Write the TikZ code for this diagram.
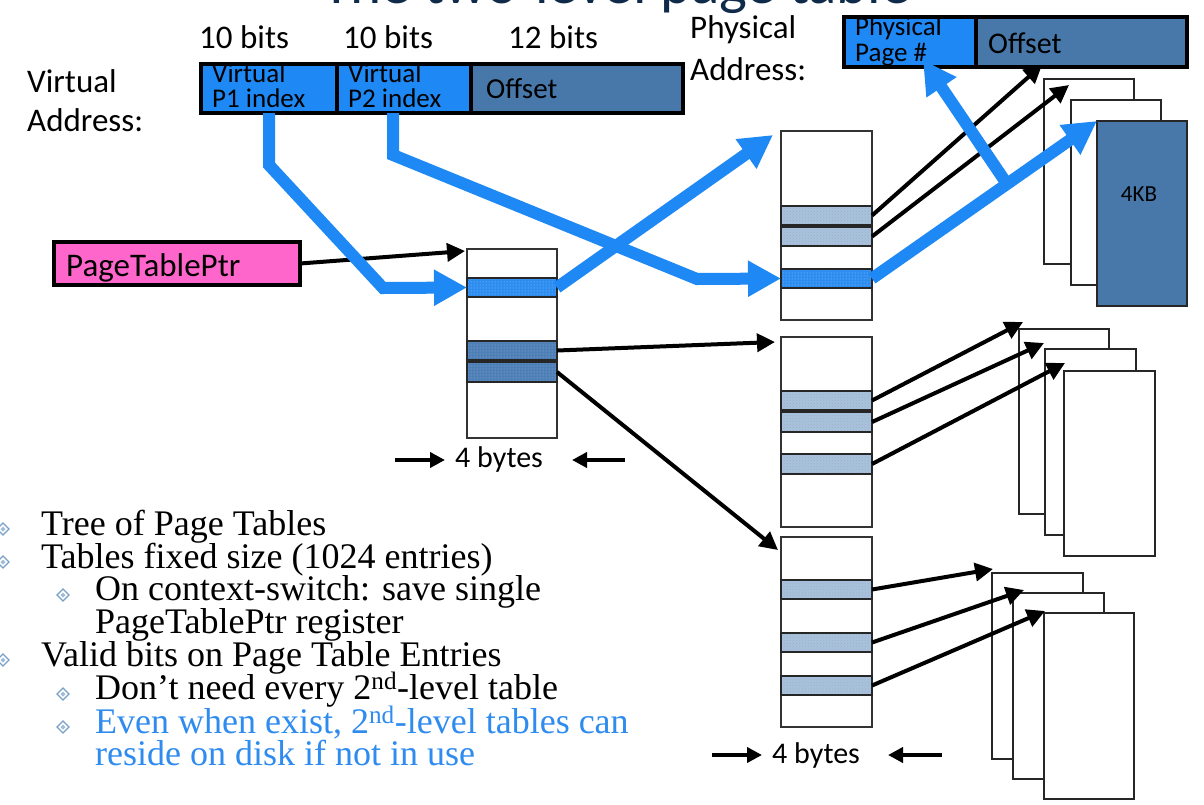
\documentclass[tikz,border=0pt]{standalone}
\usepackage{fontspec}
\setmainfont{Liberation Serif}
\newfontfamily\calf{Carlito}
\usetikzlibrary{arrows.meta,patterns,calc}
\definecolor{bblue}{RGB}{30,136,245}
\definecolor{sblue}{RGB}{72,120,170}
\definecolor{pinkc}{RGB}{255,102,204}
\definecolor{ltab}{RGB}{168,194,221}
\definecolor{dtab}{RGB}{77,126,182}
\definecolor{btab}{RGB}{44,140,240}
\definecolor{titlec}{RGB}{16,42,74}
\definecolor{bulc}{RGB}{120,160,200}
\definecolor{bluetext}{RGB}{46,139,239}
\newcommand\dbul[2]{%
  \draw[bulc, line width=1.3pt] (#1-6,#2) -- (#1,#2-6) -- (#1+6,#2) -- (#1,#2+6) -- cycle;
  \fill[bulc!70] (#1-2.5,#2) -- (#1,#2-2.5) -- (#1+2.5,#2) -- (#1,#2+2.5) -- cycle;}
\begin{document}
\begin{tikzpicture}[x=1pt,y=-1pt,
  lab/.style={font=\calf\fontsize{33}{40}\selectfont, inner sep=0, anchor=base west},
  celltext/.style={font=\calf\fontsize{27}{32}\selectfont, inner sep=0, anchor=base west},
  bul/.style={font=\fontsize{36}{42}\selectfont, inner sep=0, anchor=base west},
  cellbox/.style={draw=black, line width=4.5pt, inner sep=0, outer sep=0},
  tabbox/.style={draw=black!80, line width=1.8pt, fill=white, minimum width=91pt, inner sep=0, outer sep=0},
  entrybox/.style={draw=black!85, line width=2pt, minimum width=91pt, inner sep=0, outer sep=0},
  lentry/.style={entrybox, preaction={fill=ltab}, pattern=crosshatch dots, pattern color=ltab!75!gray},
  dentry/.style={entrybox, preaction={fill=dtab}, pattern=dots, pattern color=dtab!50!white},
  bentry/.style={entrybox, preaction={fill=btab}, pattern=dots, pattern color=btab!45!white},
  pagebox/.style={draw=black!85, line width=1.8pt, fill=white, minimum width=90pt, inner sep=0, outer sep=0},
  blk/.style={draw=black, line width=4pt, -{Triangle[length=18pt,width=18pt]}},
  sarr/.style={draw=black, line width=4pt, -{Triangle[length=15pt,width=15pt]}},
  bla/.style={draw=bblue, line width=12pt, -{Triangle[length=33pt,width=34pt]}},
]
\useasboundingbox (0,0) rectangle (1204,804);
\fill[white] (0,0) rectangle (1204,804);
\clip (0,0) rectangle (1204,804);

% title (cut off at top)
\node[anchor=base west, font=\calf\fontsize{59}{70}\selectfont, text=titlec, inner sep=0] (title) at (322,3) {The two-level page table};

% labels
\node[lab] (vlab1) at (27,92) {Virtual};
\node[lab] (vlab2) at (27,131) {Address:};
\node[lab] (bits1) at (199,48) {10 bits};
\node[lab] (bits2) at (343,48) {10 bits};
\node[lab] (bits3) at (508,48) {12 bits};
\node[lab] (plab1) at (690,38) {Physical};
\node[lab] (plab2) at (690,80) {Address:};

% virtual address
\node[cellbox, fill=bblue, minimum width=136pt, minimum height=49pt] (vp1) at (269,88.5) {};
\node[cellbox, fill=bblue, minimum width=134pt, minimum height=49pt] (vp2) at (404,88.5) {};
\node[cellbox, fill=sblue, minimum width=212pt, minimum height=49pt] (voff) at (577,88.5) {};
\node[celltext] (vp1t) at (212,82) {Virtual};
\node[celltext] (vp1u) at (212,107) {P1 index};
\node[celltext] (vp2t) at (348,82) {Virtual};
\node[celltext] (vp2u) at (348,107) {P2 index};
\node[lab, font=\calf\fontsize{29}{34}\selectfont] (vofft) at (486,98) {Offset};

% physical address
\node[cellbox, fill=bblue, minimum width=132pt, minimum height=50pt] (ppn) at (910,42) {};
\node[cellbox, fill=sblue, minimum width=211pt, minimum height=50pt] (poff) at (1081.5,42) {};
\node[celltext] (ppnt) at (855,35) {Physical};
\node[celltext] (ppnu) at (855,61) {Page \#};
\node[lab, font=\calf\fontsize{30}{35}\selectfont] (pofft) at (988,53) {Offset};

% PageTablePtr
\node[cellbox, fill=pinkc, minimum width=246pt, minimum height=43pt] (ptp) at (177,263.5) {};
\node[lab] (ptpt) at (66,276) {PageTablePtr};

% first-level table
\node[tabbox, minimum width=90pt, minimum height=189pt] (tab0) at (512,343.5) {};
\node[bentry, minimum width=90pt, minimum height=19pt] (t0a) at (512,287.5) {};
\node[dentry, minimum width=90pt, minimum height=19pt] (t0b) at (512,350.5) {};
\node[dentry, minimum width=90pt, minimum height=20pt] (t0c) at (512,372) {};

% second-level tables
\node[tabbox, minimum height=189pt] (tab1) at (826.5,225.5) {};
\node[lentry, minimum height=19pt] (t1a) at (826.5,215.5) {};
\node[lentry, minimum height=19pt] (t1b) at (826.5,236.5) {};
\node[bentry, minimum height=19pt] (t1c) at (826.5,278.5) {};

\node[tabbox, minimum height=190pt] (tab2) at (826.5,432) {};
\node[lentry, minimum height=19pt] (t2a) at (826.5,400.5) {};
\node[lentry, minimum height=20pt] (t2b) at (826.5,422) {};
\node[lentry, minimum height=20pt] (t2c) at (826.5,464) {};

\node[tabbox, minimum height=190pt] (tab3) at (826.5,632) {};
\node[lentry, minimum height=19pt] (t3a) at (826.5,589.5) {};
\node[lentry, minimum height=19pt] (t3b) at (826.5,642.5) {};
\node[lentry, minimum height=19pt] (t3c) at (826.5,685.5) {};

% pages
\node[pagebox, minimum height=185pt] (pA) at (1089,171.5) {};
\node[pagebox, minimum height=185pt] (pB) at (1116,192.5) {};
\node[pagebox, fill=sblue, minimum height=185pt] (pC) at (1142,213.5) {};
\node[anchor=base, font=\calf\fontsize{23}{28}\selectfont, inner sep=0] (kb) at (1139,201) {4KB};

\node[pagebox, minimum height=185pt] (pD) at (1064,421.5) {};
\node[pagebox, minimum width=91pt, minimum height=186pt] (pE) at (1090.5,442) {};
\node[pagebox, minimum width=91pt, minimum height=185pt] (pF) at (1109.5,463.5) {};

\node[pagebox, minimum width=91pt, minimum height=186pt] (pG) at (1037.5,666) {};
\node[pagebox, minimum width=91pt, minimum height=186pt] (pH) at (1058.5,686) {};
\node[pagebox, minimum height=186pt] (pI) at (1089,706) {};

% 4 bytes
\node[lab, font=\calf\fontsize{30}{35}\selectfont] (fb1) at (455,467) {4 bytes};
\node[lab, font=\calf\fontsize{30}{35}\selectfont] (fb2) at (772,763) {4 bytes};
\coordinate (fb1l) at (395,460);
\coordinate (fb1lt) at (445,460);
\coordinate (fb1r) at (625,460);
\coordinate (fb1rt) at (572,460);
\coordinate (fb2l) at (712,755);
\coordinate (fb2lt) at (762,755);
\coordinate (fb2r) at (942,755);
\coordinate (fb2rt) at (888,755);
\draw[sarr] (fb1l) -- (fb1lt);
\draw[sarr] (fb1r) -- (fb1rt);
\draw[sarr] (fb2l) -- (fb2lt);
\draw[sarr] (fb2r) -- (fb2rt);

% black connectors
\coordinate (c0) at (465,251);
\coordinate (c1) at (775,342);
\coordinate (c2) at (778,550);
\coordinate (c3) at (1042,65);
\coordinate (c4) at (1069,85);
\coordinate (c5) at (1023,322);
\coordinate (c6) at (1044,343);
\coordinate (c7) at (1065,363);
\coordinate (c8) at (993,569);
\coordinate (c9) at (1024,590);
\coordinate (c10) at (1045,611);
\draw[blk] (ptp.east) -- (c0);
\draw[blk] (t0b.east) -- (c1);
\draw[blk] (t0c.east) -- (c2);
\draw[blk] (t1a.east) -- (c3);
\draw[blk] (t1b.east) -- (c4);
\draw[blk] (t2a.east) -- (c5);
\draw[blk] (t2b.east) -- (c6);
\draw[blk] (t2c.east) -- (c7);
\draw[blk] (t3a.east) -- (c8);
\draw[blk] (t3b.east) -- (c9);
\draw[blk] (t3c.east) -- (c10);

% blue connectors
\coordinate (tb1) at (773,135);
\coordinate (ppntip) at (923,60);
\draw[bla] (vp1.south) -- (269,165) -- (383,288) -- (t0a.west);
\draw[bla] ([xshift=-11pt]vp2.south) -- (393,155) -- (697,279) -- (t1c.west);
\draw[bla] (t0a.east) -- (tb1);
\draw[bla] (t1c.east) -- (pC.north west);
\draw[bla] ($(t1c.east)!0.6!(pC.north west)$) -- (ppntip);

% bullets
\dbul{3}{529}
\dbul{3}{562}
\dbul{63}{595}
\dbul{3}{660}
\dbul{63}{694}
\dbul{63}{727}
\node[bul] (b1) at (41,535) {Tree of Page Tables};
\node[bul] (b2) at (41,568) {Tables fixed size (1024 entries)};
\node[bul] (b3) at (95,600) {On context-switch: save single};
\node[bul] (b4) at (95,633) {PageTablePtr register};
\node[bul] (b5) at (41,666) {Valid bits on Page Table Entries};
\node[bul] (b6) at (95,699) {Don’t need every 2\textsuperscript{nd}-level table};
\node[bul, text=bluetext] (b7) at (95,733) {Even when exist, 2\textsuperscript{nd}-level tables can};
\node[bul, text=bluetext] (b8) at (95,765) {reside on disk if not in use};
\end{tikzpicture}
\end{document}
